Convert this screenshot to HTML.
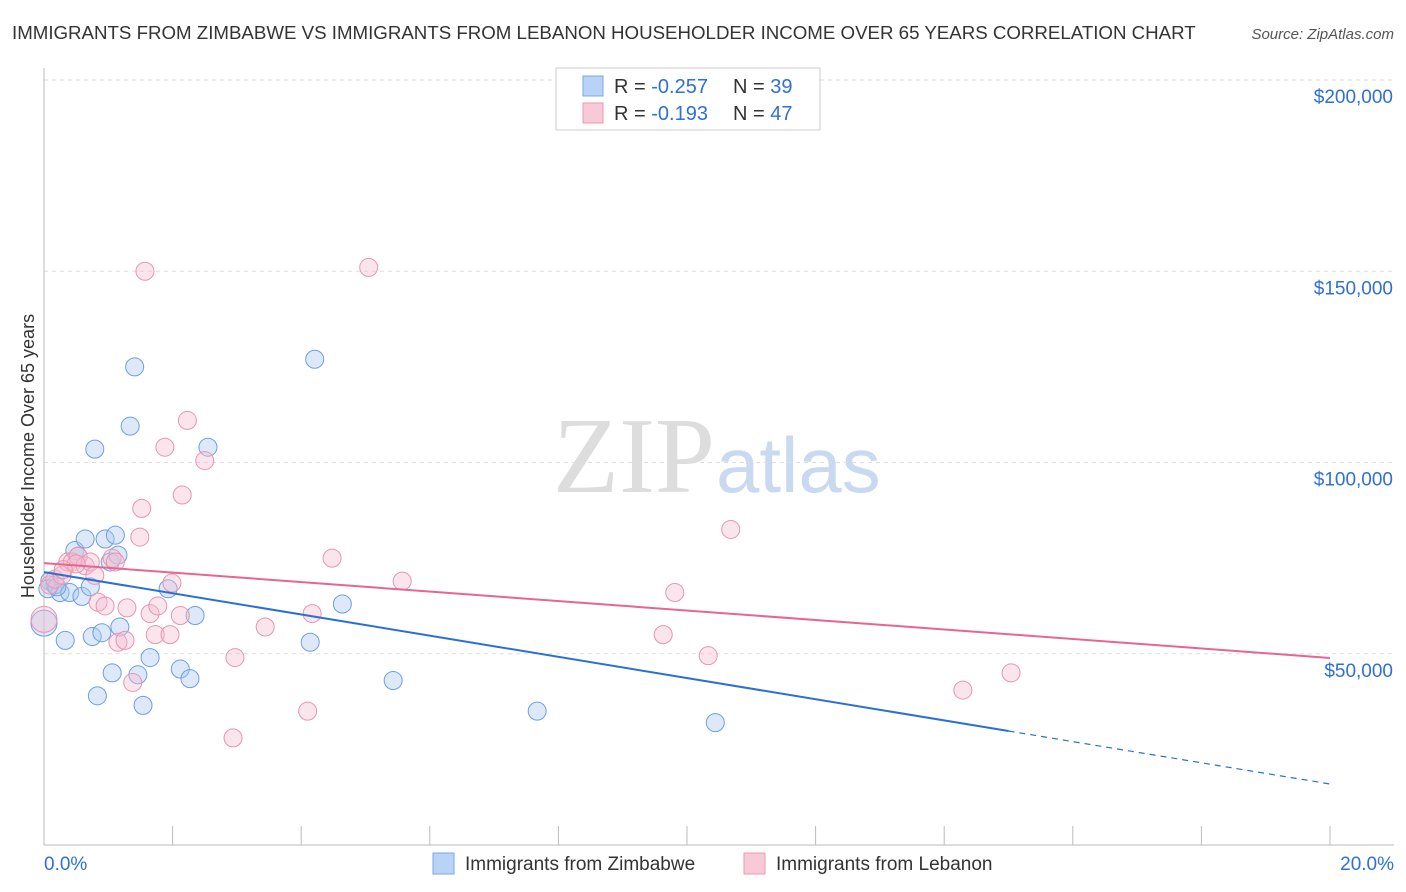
<!DOCTYPE html>
<html><head><meta charset="utf-8">
<style>
body{margin:0;background:#fff;font-family:"Liberation Sans",sans-serif;}
svg{display:block}
</style></head>
<body>
<svg id="chart" width="1406" height="892">
<text x="12" y="39" font-size="18.7" fill="#333">IMMIGRANTS FROM ZIMBABWE VS IMMIGRANTS FROM LEBANON HOUSEHOLDER INCOME OVER 65 YEARS CORRELATION CHART</text>
<text x="1394" y="39" font-size="15" fill="#555" font-style="italic" text-anchor="end">Source: ZipAtlas.com</text>
<text x="715" y="492" font-size="108" fill="#ddd" font-family="Liberation Serif,serif" text-anchor="end">ZIP</text>
<text x="716" y="492" font-size="78" fill="#c9daf0">atlas</text>
<text transform="translate(34,456) rotate(-90)" font-size="18" fill="#333" text-anchor="middle">Householder Income Over 65 years</text>
<g id="grid"></g>
<g id="marks"></g>
<g>
<rect x="556" y="68" width="264" height="62" fill="#fff" stroke="#ccc"/>
<rect x="583" y="76" width="20" height="20" fill="#b8d3f5" stroke="#7aa7e3"/>
<rect x="583" y="103" width="20" height="20" fill="#f8c9d7" stroke="#ec9ab3"/>
<text x="614" y="93" font-size="20" fill="#333">R = <tspan fill="#2f6fd6">-0.257</tspan></text>
<text x="733" y="93" font-size="20" fill="#333">N = <tspan fill="#2f6fd6">39</tspan></text>
<text x="614" y="120" font-size="20" fill="#333">R =  <tspan fill="#2f6fd6">-0.193</tspan></text>
<text x="733" y="120" font-size="20" fill="#333">N = <tspan fill="#2f6fd6">47</tspan></text>
</g>
<g>
<rect x="433" y="853" width="21" height="21" fill="#b8d3f5" stroke="#7aa7e3"/>
<text x="465" y="870" font-size="19" fill="#333">Immigrants from Zimbabwe</text>
<rect x="744" y="853" width="21" height="21" fill="#f8c9d7" stroke="#ec9ab3"/>
<text x="776" y="870" font-size="19" fill="#333">Immigrants from Lebanon</text>
</g>
<text x="44" y="870" font-size="19" fill="#2f6fd6">0.0%</text>
<text x="1394" y="870" font-size="19" fill="#2f6fd6" text-anchor="end">20.0%</text>
</svg>
<script>
const yTicks=[50000,100000,150000,200000];
const yTickLabels=["$50,000","$100,000","$150,000","$200,000"];
const zimX=[0.0,0.09,0.17,0.25,0.33,0.4,0.48,0.53,0.59,0.64,0.72,0.75,0.79,0.83,0.9,0.95,1.03,1.06,1.11,1.15,1.18,1.34,1.41,1.46,1.54,1.65,1.93,2.12,2.27,2.35,2.55,4.14,4.21,4.64,5.43,7.67,10.44,0.06,0.2];
const zimY=[58000,69000,68000,66000,53500,66000,77000,75500,65000,80000,67500,54500,103500,39000,55500,80000,74000,45000,81000,75800,57000,109500,125000,44500,36500,49000,67000,46000,43500,60000,104000,53000,127000,63000,43000,35000,32000,67000,67500];
const lebX=[0.0,0.09,0.17,0.28,0.37,0.44,0.53,0.64,0.72,0.79,0.84,0.95,1.06,1.11,1.15,1.26,1.29,1.38,1.49,1.52,1.57,1.65,1.73,1.77,1.88,1.96,1.99,2.12,2.15,2.23,2.5,2.94,2.97,3.44,4.1,4.17,4.48,5.05,5.57,9.63,9.81,10.33,10.68,14.29,15.04,0.5,0.3];
const lebY=[59000,68000,69500,70500,74000,74000,75500,73000,74000,70500,63500,62500,75000,74000,53000,53500,62000,42500,80500,88000,150000,60500,55000,62500,104000,55000,68500,60000,91500,111000,100500,28000,49000,57000,35000,60500,75000,151000,69000,55000,66000,49500,82500,40500,45000,73500,72000];
const zimTrend=[-2770,71350];
const lebTrend=[-1240,73700];
const X0=44,X1=1330,Y0=845,Y200=80;
const sx=v=>X0+(X1-X0)*v/20;
const sy=v=>Y0-(Y0-Y200)*v/200000;
const NS="http://www.w3.org/2000/svg";
function mk(tag,attrs,parent){const e=document.createElementNS(NS,tag);for(const k in attrs)e.setAttribute(k,attrs[k]);parent.appendChild(e);return e;}
const grid=document.getElementById('grid'),marks=document.getElementById('marks');
yTicks.forEach((t,i)=>{
 const l=mk('line',{x1:X0,x2:1394,y1:sy(t),y2:sy(t),stroke:'#ddd','stroke-dasharray':'4,4'},grid);
 
 
 const tx=mk('text',{x:1393,y:sy(t)+23,'font-size':19,fill:'#2f6fd6','text-anchor':'end'},grid);
 tx.textContent=yTickLabels[i];
 
 
});
const ya=mk('line',{x1:X0,x2:X0,y1:68,y2:Y0,stroke:'#bbb'},grid);


const xa=mk('line',{x1:X0,x2:1394,y1:Y0,y2:Y0,stroke:'#bbb'},grid);


for(let i=0;i<=10;i++){
 const t=mk('line',{x1:sx(i*2),x2:sx(i*2),y1:826,y2:Y0,stroke:'#bbb'},grid);
 
 
}
function pts(xs,ys,fill,stroke,name){
 xs.forEach((x,i)=>{
  const c=mk('circle',{cx:sx(x),cy:sy(ys[i]),r:i===0?13:9,fill:fill,'fill-opacity':0.4,stroke:stroke,'stroke-width':1},marks);
  
  
 });
}
pts(zimX,zimY,'#a9c8f0','#6f9fe0','zimbabwe-point');
pts(lebX,lebY,'#f6bdd0','#e895b0','lebanon-point');
const zf=zimTrend,lf=lebTrend;
let l=mk('line',{x1:sx(0),y1:sy(zf[1]),x2:sx(15),y2:sy(zf[1]+zf[0]*15),stroke:'#2a6fd6','stroke-width':2},marks);


l=mk('line',{x1:sx(15),y1:sy(zf[1]+zf[0]*15),x2:sx(20),y2:sy(zf[1]+zf[0]*20),stroke:'#2a6fd6','stroke-width':1.2,'stroke-dasharray':'6,5'},marks);


l=mk('line',{x1:sx(0),y1:sy(lf[1]),x2:sx(20),y2:sy(lf[1]+lf[0]*20),stroke:'#e86592','stroke-width':2},marks);


</script>
</body></html>
